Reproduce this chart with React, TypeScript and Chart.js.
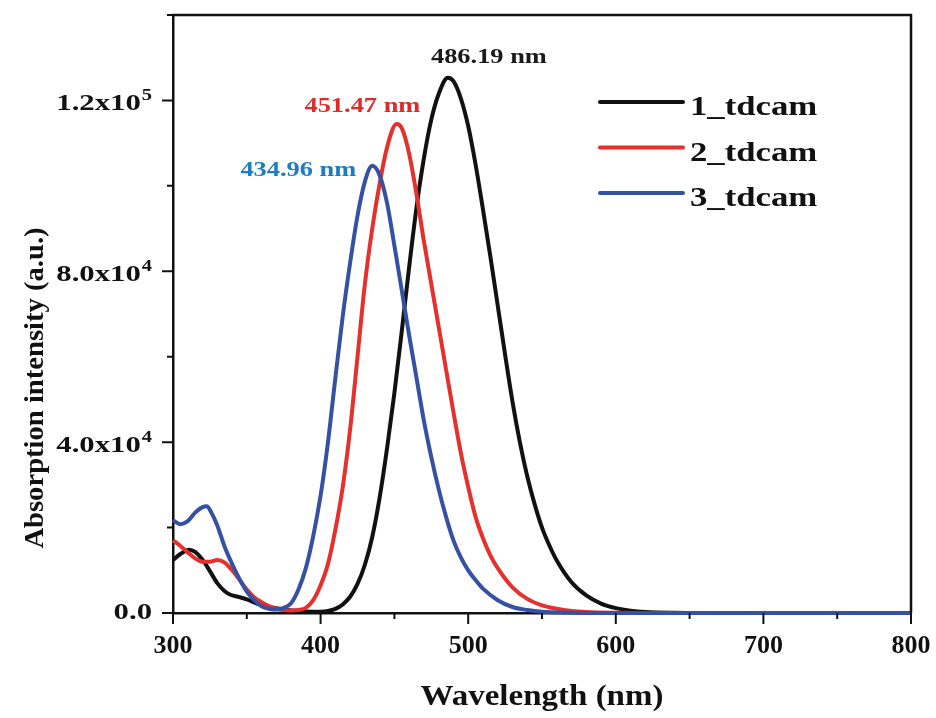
import React, { useEffect, useRef } from 'react';
import { Chart, registerables } from 'chart.js';

Chart.register(...registerables);

const SERIF = "'Liberation Serif', 'Times New Roman', Times, serif";

// ---- data (wavelength in nm, absorption intensity in a.u.) ----
const wavelength1 = [300, 305, 311, 315, 320, 325, 330, 337, 345, 350, 360, 370, 380, 390, 400, 405, 410, 415, 420, 425, 430, 435, 440, 445, 450, 455, 460, 465, 470, 475, 480, 486.19, 490, 495, 500, 505, 510, 515, 520, 525, 530, 535, 540, 545, 550, 555, 560, 570, 580, 590, 600, 610, 620, 640, 660, 700, 800];
const intensity1 = [12400, 13800, 14800, 14300, 12500, 9800, 7000, 4600, 3700, 3200, 1800, 1100, 600, 350, 300, 450, 950, 2000, 3800, 6800, 11300, 17800, 27000, 38500, 51500, 66000, 81000, 95000, 106500, 115500, 121500, 125300, 124500, 120500, 114000, 105000, 94500, 83500, 72000, 60500, 49500, 40000, 32000, 25500, 20000, 15800, 12300, 7200, 4100, 2200, 1150, 550, 250, 60, 10, 0, 0];

const wavelength2 = [300, 305, 310, 315, 320, 325, 330, 335, 340, 345, 350, 355, 360, 365, 370, 375, 380, 385, 390, 395, 400, 405, 410, 415, 420, 425, 430, 435, 440, 445, 451.47, 455, 460, 465, 470, 475, 480, 485, 490, 495, 500, 505, 510, 515, 520, 530, 540, 550, 560, 570, 580, 600, 620, 800];
const intensity2 = [17000, 15700, 14200, 12800, 12000, 12000, 12400, 11800, 10000, 7800, 5500, 3700, 2500, 1600, 1000, 700, 600, 700, 1200, 3000, 6500, 11500, 19500, 29500, 43000, 60000, 77000, 90000, 100500, 109000, 114500, 113500, 107500, 98000, 87000, 77000, 67000, 57000, 47000, 37500, 29500, 22500, 17500, 13500, 10500, 6000, 3300, 1800, 1000, 500, 250, 60, 0, 0];

const wavelength3 = [300, 305, 310, 315, 320, 323, 326, 330, 335, 340, 345, 350, 355, 360, 365, 370, 375, 380, 385, 390, 395, 400, 405, 410, 415, 420, 425, 430, 434.96, 440, 445, 450, 455, 460, 465, 470, 475, 480, 485, 490, 495, 500, 505, 510, 520, 530, 540, 550, 570, 600, 800];
const intensity3 = [21700, 20800, 21500, 23500, 24800, 25000, 23500, 20500, 15500, 11500, 8000, 5000, 3000, 1600, 1000, 800, 1200, 2300, 5500, 10500, 18000, 27500, 40000, 55000, 69500, 82000, 93000, 101000, 104700, 102500, 96000, 86000, 75500, 65000, 55000, 45000, 36500, 29000, 22500, 17000, 13000, 10000, 7700, 5700, 3000, 1400, 700, 300, 80, 0, 0];

const seriesLabels = ['1_tdcam', '2_tdcam', '3_tdcam'];
const seriesColors = ['#111111', '#e5312d', '#3551a4'];

const peakLabels = ['486.19 nm', '451.47 nm', '434.96 nm'];
const peakLabelColors = ['#1a1a1a', '#e02a28', '#1c7dc2'];
const peakLabelX = [514.0, 428.3, 384.9];
const peakLabelY = [128700, 117300, 102300];

const xMin = 300;
const xMax = 800;
const xStep = 100;
const xMinorTicks = [350, 450, 550, 650, 750];
const yMin = 0;
const yMax = 140000;
const yMajorTicks = [0, 40000, 80000, 120000];
const yMinorTicks = [20000, 60000, 100000, 140000];
const yTickMantissa = ['0.0', '4.0', '8.0', '1.2'];
const yTickExponent = ['', '4', '4', '5'];

const xTitle = 'Wavelength (nm)';
const yTitle = 'Absorption intensity (a.u.)';

function toPoints(xs: number[], ys: number[]) {
  return xs.map((x, i) => ({ x, y: ys[i] }));
}

function drawText(ctx: CanvasRenderingContext2D, text: string, x: number, y: number, font: string, color: string, align: string, sx: number) {
  ctx.save();
  ctx.font = font;
  ctx.fillStyle = color;
  ctx.textBaseline = 'alphabetic';
  ctx.textAlign = 'left';
  const w = ctx.measureText(text).width * sx;
  const x0 = align === 'center' ? x - w / 2 : align === 'right' ? x - w : x;
  ctx.translate(x0, y);
  ctx.scale(sx, 1);
  ctx.fillText(text, 0, 0);
  ctx.restore();
  return w;
}

const decorPlugin = {
  id: 'decor',
  afterDraw(chart: any) {
    const ctx: CanvasRenderingContext2D = chart.ctx;
    const { left, right, top, bottom } = chart.chartArea;
    const xs = chart.scales.x;
    const ys = chart.scales.y;
    ctx.save();
    ctx.strokeStyle = '#111111';
    ctx.lineWidth = 2.5;
    ctx.lineCap = 'butt';
    // box top and right
    ctx.beginPath();
    ctx.moveTo(left - 1, top);
    ctx.lineTo(right, top);
    ctx.lineTo(right, bottom);
    ctx.stroke();
    // tick marks
    ctx.lineWidth = 2;
    const xMajor: number[] = xs.ticks.map((t: any) => t.value);
    ctx.beginPath();
    xMajor.forEach((v) => {
      const px = xs.getPixelForValue(v);
      ctx.moveTo(px, bottom);
      ctx.lineTo(px, bottom + 11);
    });
    xMinorTicks.forEach((v) => {
      const px = xs.getPixelForValue(v);
      ctx.moveTo(px, bottom);
      ctx.lineTo(px, bottom + 6);
    });
    yMajorTicks.forEach((v) => {
      const py = ys.getPixelForValue(v);
      ctx.moveTo(left, py);
      ctx.lineTo(left - 11, py);
    });
    yMinorTicks.forEach((v) => {
      const py = ys.getPixelForValue(v);
      ctx.moveTo(left, py);
      ctx.lineTo(left - 6, py);
    });
    ctx.stroke();

    // y tick labels with superscript exponent
    yMajorTicks.forEach((v, i) => {
      const py = ys.getPixelForValue(v);
      const mant = yTickMantissa[i];
      const exp = yTickExponent[i];
      const baseFont = `bold 24px ${SERIF}`;
      const supFont = `bold 16px ${SERIF}`;
      const sx = 1.28;
      const labelRight = left - 21;
      if (exp) {
        ctx.font = supFont;
        const ew = ctx.measureText(exp).width * sx;
        const base = mant + 'x10';
        drawText(ctx, base, labelRight - ew - 1, py + 10, baseFont, '#111111', 'right', sx);
        drawText(ctx, exp, labelRight, py + 0, supFont, '#111111', 'right', sx);
      } else {
        drawText(ctx, mant, labelRight, py + 6, baseFont, '#111111', 'right', sx);
      }
    });

    // y axis title (rotated)
    ctx.save();
    ctx.translate(43, ys.getPixelForValue(yMin) - 225);
    ctx.rotate(-Math.PI / 2);
    drawText(ctx, yTitle, 0, 0, `bold 27px ${SERIF}`, '#111111', 'center', 1.06);
    ctx.restore();

    // x axis title
    drawText(ctx, xTitle, (left + right) / 2, 705, `bold 30px ${SERIF}`, '#111111', 'center', 1.1);

    // peak annotations
    peakLabels.forEach((txt, i) => {
      const px = xs.getPixelForValue(peakLabelX[i]);
      const py = ys.getPixelForValue(peakLabelY[i]);
      drawText(ctx, txt, px, py, `bold 22px ${SERIF}`, peakLabelColors[i], 'center', 1.2);
    });

    // legend
    const legX0 = 600;
    const legX1 = 683;
    const legTextX = 690;
    const legY0 = 102;
    const legDy = 45.5;
    seriesLabels.forEach((lab, i) => {
      const ly = legY0 + i * legDy;
      ctx.strokeStyle = seriesColors[i];
      ctx.lineWidth = 4;
      ctx.lineCap = 'round';
      ctx.beginPath();
      ctx.moveTo(legX0, ly);
      ctx.lineTo(legX1, ly);
      ctx.stroke();
      drawText(ctx, lab, legTextX, ly + 13, `bold 28px ${SERIF}`, '#111111', 'left', 1.24);
    });
    ctx.restore();
  },
};

export default function App() {
  const canvasRef = useRef<HTMLCanvasElement | null>(null);

  useEffect(() => {
    const canvas = canvasRef.current;
    if (!canvas) return;
    const datasets = [0, 1, 2].map((i) => ({
      label: seriesLabels[i],
      data: toPoints([wavelength1, wavelength2, wavelength3][i], [intensity1, intensity2, intensity3][i]),
      borderColor: seriesColors[i],
      backgroundColor: seriesColors[i],
      borderWidth: 4,
      pointRadius: 0,
      fill: false,
      cubicInterpolationMode: 'monotone' as const,
      order: 2 - i,
      clip: false as const,
    }));

    const chart = new Chart(canvas, {
      type: 'line',
      data: { datasets },
      options: {
        responsive: false,
        animation: false,
        layout: { padding: { left: 0, top: 15, right: 25, bottom: 0 } },
        plugins: {
          legend: { display: false },
          tooltip: { enabled: false },
          title: { display: false },
        },
        scales: {
          x: {
            type: 'linear',
            min: xMin,
            max: xMax,
            grid: { display: false, drawTicks: false },
            border: { display: true, color: '#111111', width: 2.5 },
            ticks: {
              stepSize: xStep,
              padding: 18,
              color: '#111111',
              font: { family: SERIF, size: 26, weight: 'bold' },
              maxRotation: 0,
            },
            afterFit: (scale: any) => {
              scale.height = 105;
              scale.paddingLeft = 0;
              scale.paddingRight = 0;
            },
          },
          y: {
            type: 'linear',
            min: yMin,
            max: yMax,
            grid: { display: false, drawTicks: false },
            border: { display: true, color: '#111111', width: 2.5 },
            ticks: { display: false, stepSize: 20000 },
            afterFit: (scale: any) => {
              scale.width = 173;
              scale.paddingTop = 0;
              scale.paddingBottom = 0;
            },
          },
        },
      },
      plugins: [decorPlugin],
    });
    return () => {
      chart.destroy();
    };
  }, []);

  return (
    <div style={{ position: 'absolute', left: 0, top: 0, width: 936, height: 718, background: '#ffffff' }}>
      <canvas ref={canvasRef} width={936} height={718} style={{ display: 'block' }} />
    </div>
  );
}
